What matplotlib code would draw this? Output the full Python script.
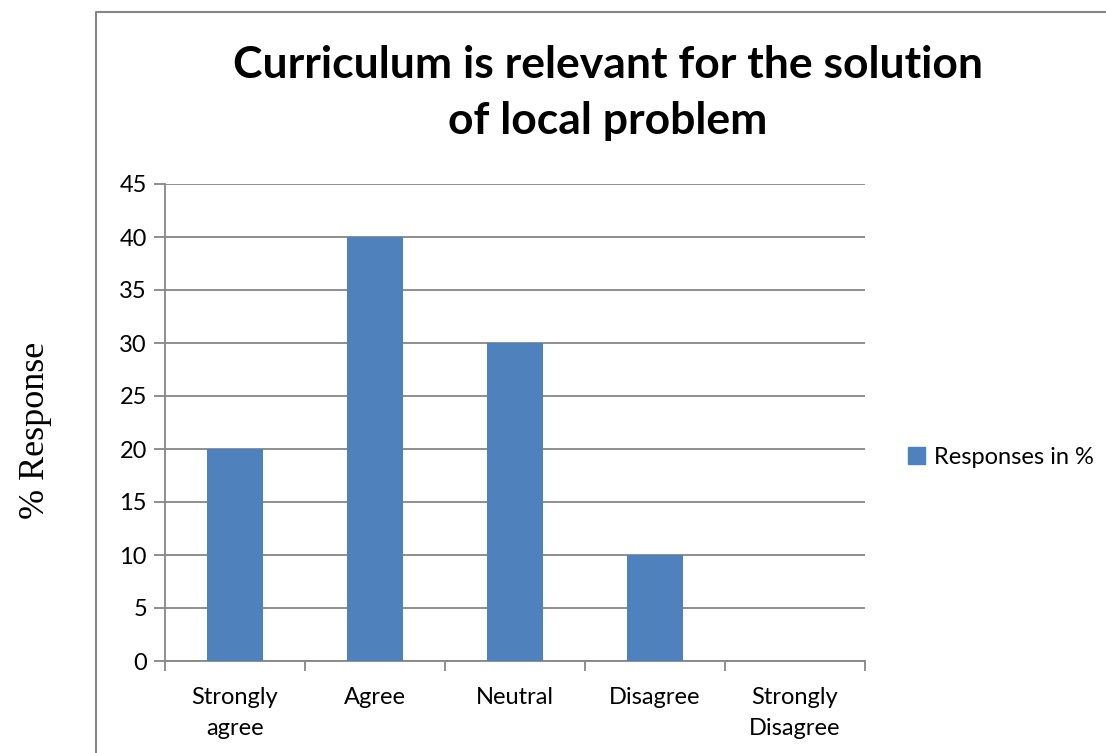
import matplotlib
matplotlib.use("Agg")
import matplotlib.pyplot as plt
from matplotlib.lines import Line2D
from matplotlib.patches import Patch

categories = ["Strongly\nagree", "Agree", "Neutral", "Disagree", "Strongly\nDisagree"]
values = [20, 40, 30, 10, 0]
yticks = [0, 5, 10, 15, 20, 25, 30, 35, 40, 45]
series_name = "Responses in %"
title = "Curriculum is relevant for the solution\nof local problem"
ylabel = "% Response"

W, H = 1106, 753
fig = plt.figure(figsize=(W / 100, H / 100), dpi=100)
font = "Lato"
gray = "#868686"
bar_color = "#4F81BD"

# axes placement in pixels
left, right, top, bottom = 165, 865, 184, 661
ax = fig.add_axes([left / W, 1 - bottom / H, (right - left) / W, (bottom - top) / H])

x = list(range(len(categories)))
ax.bar(x, values, width=0.4, color=bar_color, zorder=3)
ax.set_xlim(-0.5, len(categories) - 0.5)
ax.set_ylim(0, 45)
ax.set_yticks(yticks)
ax.set_yticklabels([str(v) for v in yticks], fontname=font, fontsize=17)
ax.yaxis.grid(True, color=gray, linewidth=1.3, zorder=0)
ax.set_xticks(x)
ax.set_xticklabels(categories, fontname=font, fontsize=17, linespacing=1.55)
ax.set_xticks([i - 0.5 for i in range(len(categories) + 1)], minor=True)
ax.tick_params(axis="x", which="major", length=0, pad=19)
ax.tick_params(axis="x", which="minor", length=7, width=1.3, color=gray, direction="out")
ax.tick_params(axis="y", length=8, width=1.3, color=gray, direction="out", pad=5)
for s in ["top", "right"]:
    ax.spines[s].set_visible(False)
for s in ["left", "bottom"]:
    ax.spines[s].set_color(gray)
    ax.spines[s].set_linewidth(1.3)

fig.text(608 / W, 1 - 93 / H, title, ha="center", va="center", fontname=font,
         fontweight="bold", fontsize=32, linespacing=1.5)
fig.text(36 / W, 1 - 430 / H, ylabel, rotation=90, ha="center", va="center",
         fontname="Liberation Serif", fontsize=26)

leg = fig.legend(handles=[Patch(color=bar_color, label=series_name)],
                 loc="center left", bbox_to_anchor=(887 / W, 1 - 457 / H), frameon=False,
                 prop={"family": font, "size": 17}, handlelength=0.7, handleheight=0.7,
                 handletextpad=0.4)

# outer chart border (left and top)
fig.add_artist(Line2D([96 / W, 96 / W, 1.0], [0.0, 1 - 12 / H, 1 - 12 / H],
                      color=gray, linewidth=1.5, transform=fig.transFigure))

fig.savefig("out.png", dpi=100)
